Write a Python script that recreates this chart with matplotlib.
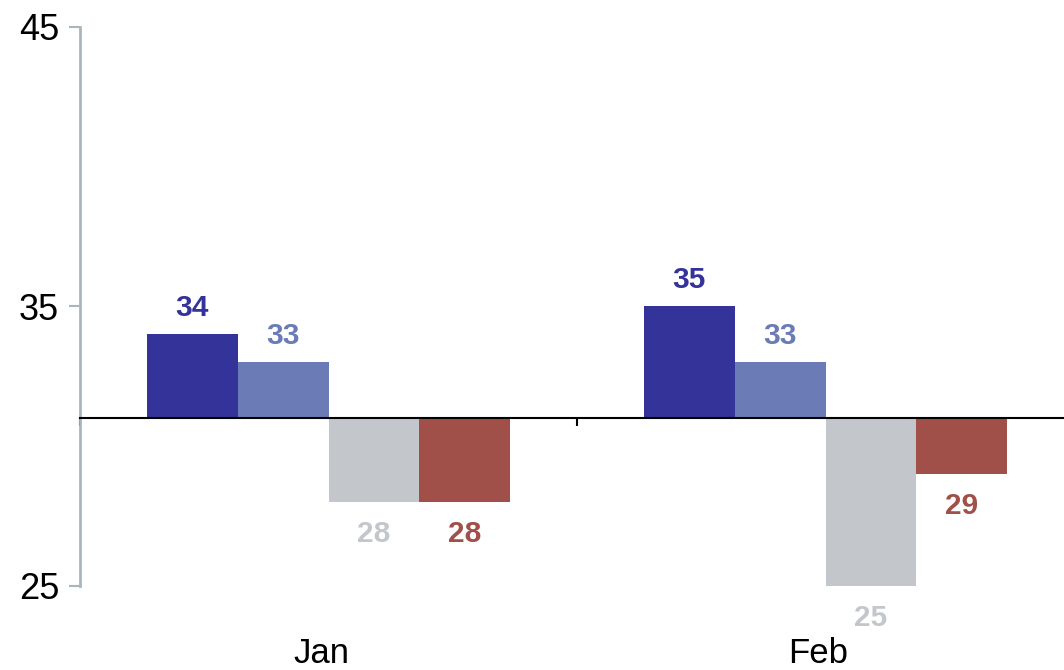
"""
Grouped bars around a baseline of 31, Jan vs Feb.
"""

import numpy as np
import matplotlib
matplotlib.use("Agg")
import matplotlib.pyplot as plt
import matplotlib.transforms as mtransforms

# ================================================================
# DATA
# ================================================================

months = ["Jan", "Feb"]
series_a = [34, 35]
series_b = [33, 33]
series_c = [28, 25]
series_d = [28, 29]
baseline = 31
y_ticks = [25, 35, 45]

colors = ["#343399", "#6a7bb5", "#c3c7cb", "#a05048"]

# ================================================================
# PLOT
# ================================================================

plt.rcParams["font.family"] = ["Liberation Sans", "DejaVu Sans"]

fig = plt.figure(figsize=(10.64, 6.70), dpi=100)
# one category spans ~497 px; axes runs past the right edge of the figure
ax = fig.add_axes([80 / 1064, 1 - 586 / 670, 2 * 497 / 1064, 559 / 670])

x = np.arange(len(months))
width = 0.183
all_series = [series_a, series_b, series_c, series_d]
offsets = [-1.5, -0.5, 0.5, 1.5]

for vals, off, col in zip(all_series, offsets, colors):
    heights = [v - baseline for v in vals]
    bars = ax.bar(x + off * width, heights, width, bottom=baseline,
                  color=col, linewidth=0, zorder=2)
    for b, v in zip(bars, vals):
        cx = b.get_x() + b.get_width() / 2
        dy = 19 if v >= baseline else -23
        ax.annotate(f"{v}", xy=(cx, v), xytext=(0, dy),
                    textcoords="offset points", ha="center", va="center",
                    fontsize=21.5, fontweight="bold", color=col)

ax.set_xlim(-0.5, 1.5)
ax.set_ylim(25, 45)

# y axis
ax.set_yticks(y_ticks)
ax.tick_params(axis="y", length=8, width=1.5, color="#a9b6be",
               labelsize=26, pad=7, labelcolor="black")
ax.spines["left"].set_color("#a9b6be")
ax.spines["left"].set_linewidth(2)

# x axis sits on the baseline
ax.spines["bottom"].set_position(("data", baseline))
ax.spines["bottom"].set_linewidth(1.5)
ax.spines["bottom"].set_zorder(3)
ax.spines["top"].set_visible(False)
ax.spines["right"].set_visible(False)
ax.set_xticks([-0.5, 0.5, 1.5])
ax.set_xticklabels([])
ax.tick_params(axis="x", length=6, width=1.5, color="black", direction="out")

trans = mtransforms.blended_transform_factory(ax.transData, ax.transAxes)
for xi, m in zip(x, months):
    ax.text(xi - 0.015, -0.12, m, transform=trans, ha="center", va="center",
            fontsize=25, color="black")

fig.savefig("out.png", dpi=100)
